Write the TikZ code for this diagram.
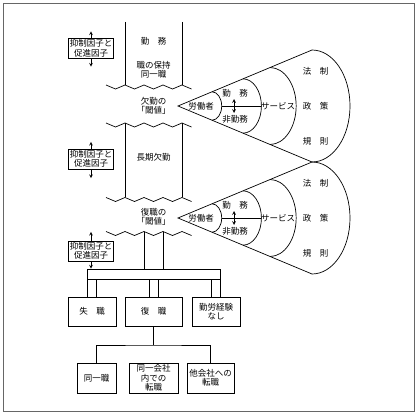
\documentclass[tikz,border=0pt]{standalone}
\usepackage{fontspec}
\setmainfont{Noto Sans CJK JP}
\usetikzlibrary{arrows,positioning,calc}

\begin{document}
\begin{tikzpicture}[x=1pt, y=-1pt, line width=0.7pt,
    font=\fontsize{8.5}{9.5}\selectfont,
    factor/.style={rectangle, draw, fill=white, align=center, inner sep=1.2pt},
    result/.style={rectangle, draw, fill=white, minimum height=29pt, align=center, inner sep=1pt},
    txt/.style={align=center, inner sep=1pt},
    zigzag/.pic={\draw (-47.5,-2) -- (-38,2) -- (-28.5,-2) -- (-19,2) -- (-9.5,-2) -- (0,2) -- (9.5,-2) -- (19,2) -- (28.5,-2) -- (38,2);}
]
\useasboundingbox (0,0) rectangle (419,417);
\draw[black!60, line width=1.3pt] (3.5,3.5) rectangle (414.5,411.5);

% time axis
\draw (125,22) -- (125,85) (182,22) -- (182,85);
\draw (125,123) -- (125,197) (182,123) -- (182,197);
\foreach \wy in {87,125,199.5,233.5}
  \pic at (153.5,\wy) {zigzag};

\node[txt] (work) at (153.5,41) {勤　務};
\node[txt] (keep) at (153.5,70) {職の保持\\同一職};
\node[txt] (thrA) at (153.5,106) {欠勤の\\｢閾値｣};
\node[txt] (longabs) at (153.5,157) {長期欠勤};
\node[txt] (thrB) at (153.5,217) {復職の\\｢閾値｣};

% inhibiting / promoting factors
\node[factor] (facA) at (91,48.5) {抑制因子と\\促進因子};
\node[factor] (facB) at (91,159) {抑制因子と\\促進因子};
\node[factor] (facC) at (91,251) {抑制因子と\\促進因子};
\draw[-stealth] (facA.north) -- ++(0,-7);
\draw[-stealth] (facA.south) -- ++(0,8);
\draw[-stealth] (facB.north) -- ++(0,-7);
\draw[-stealth] (facB.south) -- ++(0,9);
\draw[-stealth] (facC.north) -- ++(0,-9);

% cones
\foreach \cy/\nm in {106/A, 218/B} {
  \begin{scope}[shift={(178,\cy)}]
    \draw (134,-56) -- (0,0) -- (134,56);
    \foreach \s in {0.254,0.485,0.687,1}
      \draw[scale=\s] (134,-56) .. controls (155,-56) and (172,-30.9) .. (172,0)
        .. controls (172,30.9) and (155,56) .. (134,56);
    \draw (43.7,0) -- (83.4,0);
    \draw[stealth-stealth] (56,-7) -- (56,7);
    \node[txt] (worker\nm) at (23,0) {労働者};
    \node[txt] (duty\nm) at (57,-13) {勤　務};
    \node[txt] (offduty\nm) at (57,13) {非勤務};
    \node[txt] (service\nm) at (100,0) {サービス};
    \node[txt] (law\nm) at (137.5,-35) {法　制};
    \node[txt] (policy\nm) at (137.5,0) {政　策};
    \node[txt] (rule\nm) at (137.5,35) {規　則};
  \end{scope}
}

% outcomes
\node[draw, minimum width=133pt, minimum height=10pt, inner sep=0pt] (bar) at (154,274) {};
\node[result, minimum width=48pt] (lost) at (92,311.5) {失　職};
\node[result, minimum width=57pt] (back) at (153.5,311.5) {復　職};
\node[result, minimum width=48pt] (none) at (216,311.5) {勤労経験\\なし};

\coordinate (inA) at (144,231.5);
\coordinate (inB) at (163,231.5);
\draw (inA) -- (inA |- bar.north) (inB) -- (inB |- bar.north);
\draw[-stealth] (facC.south) -- (facC.south |- bar.north);
\foreach \b in {lost,back,none}
  \foreach \dx in {-4.5,4.5}
    \draw ($(\b.north)+(\dx,0)$) -- ($(\b.north |- bar.south)+(\dx,0)$);

\node[result, minimum width=39pt, minimum height=30pt] (same) at (96.5,378) {同一職};
\node[result, minimum width=49pt, minimum height=30pt, inner sep=0pt] (inside) at (153.5,378) {同一会社\\内での\\転職};
\node[result, minimum width=47pt, minimum height=30pt] (other) at (210.5,378) {他会社への\\転職};
\coordinate (split) at (153.5,345);
\draw (back.south) -- (split);
\draw (same.north) |- (split) -| (other.north);

\end{tikzpicture}
\end{document}
